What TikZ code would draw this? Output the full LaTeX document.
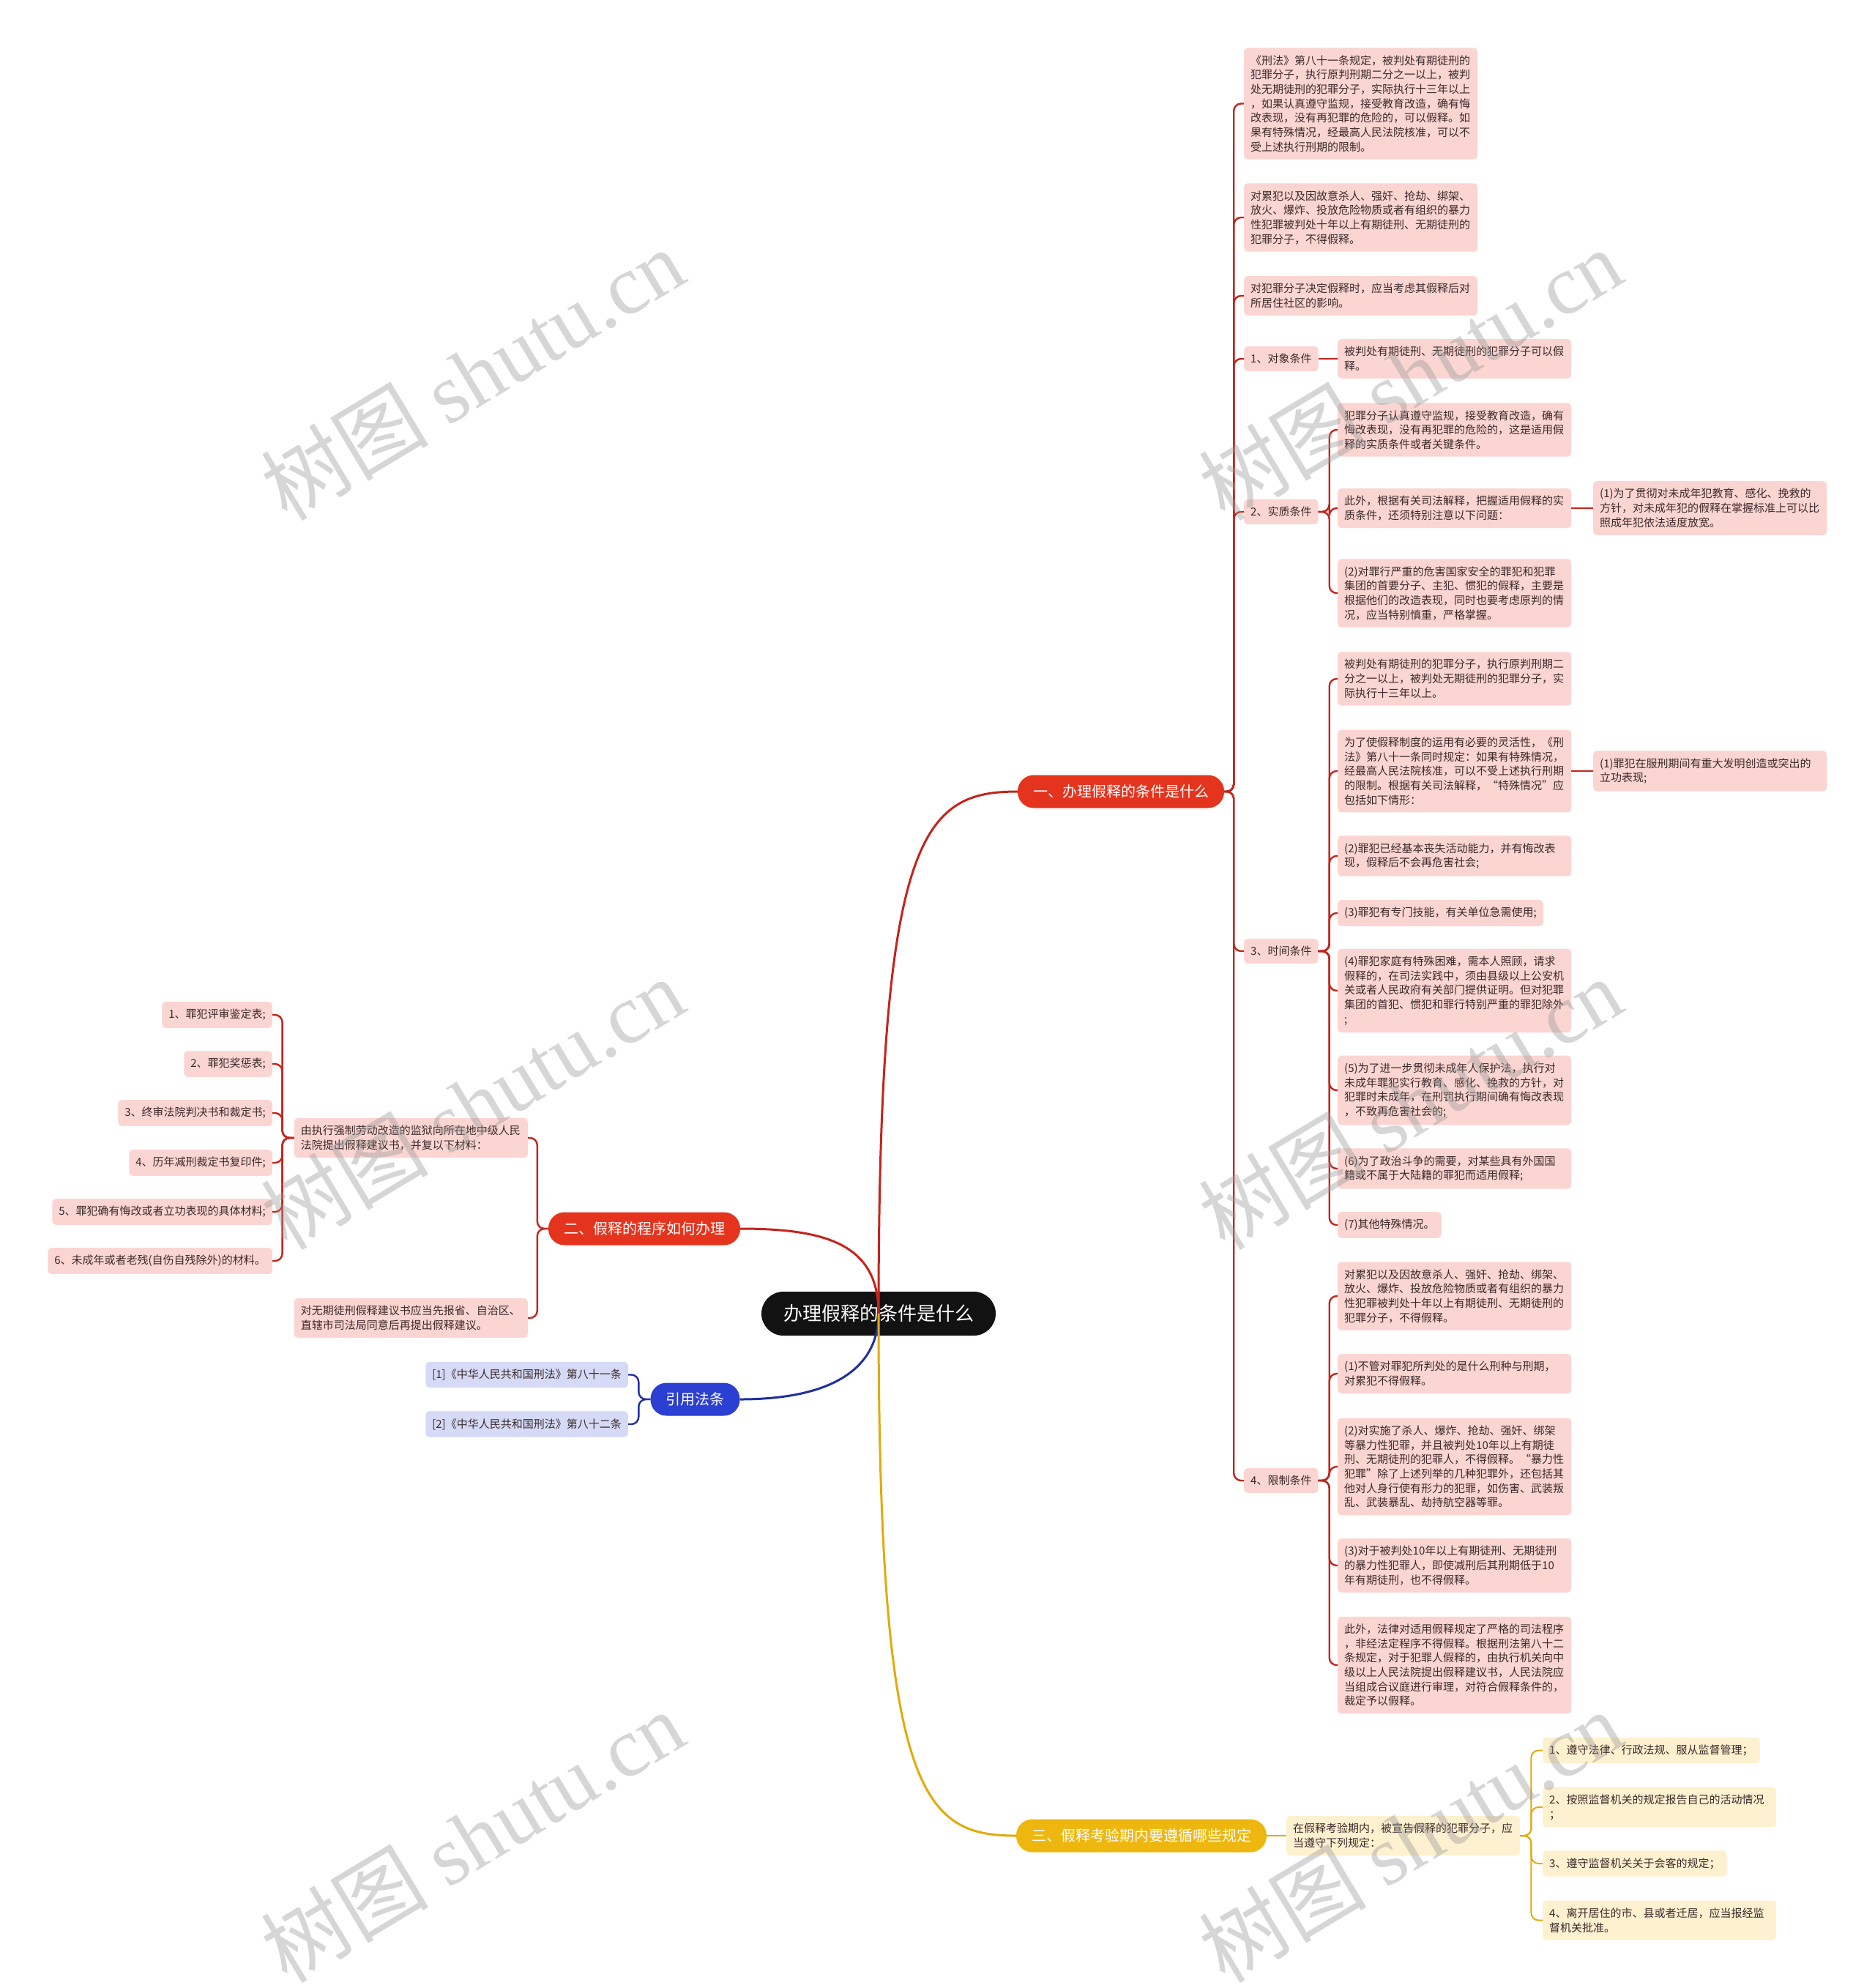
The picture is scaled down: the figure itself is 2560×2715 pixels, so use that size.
\documentclass[tikz,border=0pt]{standalone}
\usepackage{fontspec}
\setmainfont{Noto Sans CJK SC}
\newfontfamily\wmfont{Liberation Serif}
\definecolor{inkred}{HTML}{C4241C}
\definecolor{capred}{HTML}{E5341E}
\definecolor{leafpink}{HTML}{FBD5D1}
\definecolor{inkblue}{HTML}{1F2FA0}
\definecolor{capblue}{HTML}{2B3FD3}
\definecolor{leafblue}{HTML}{D5DAF6}
\definecolor{inkgold}{HTML}{E2AA0B}
\definecolor{capgold}{HTML}{EEB70F}
\definecolor{leafgold}{HTML}{FEF1CF}
\definecolor{leaftext}{HTML}{3A2A2A}
\begin{document}
\begin{tikzpicture}[x=1pt, y=-1pt,
  rootpill/.style={fill=black!93, text=white, rounded corners=30pt, minimum height=60pt, inner xsep=30pt, inner ysep=0pt, font=\fontsize{26pt}{30pt}\selectfont},
  pill/.style={text=white, rounded corners=22pt, minimum height=45pt, inner xsep=21pt, inner ysep=0pt, font=\fontsize{20pt}{24pt}\selectfont},
  tag/.style={fill=leafpink, rounded corners=5pt, inner xsep=9pt, inner ysep=10pt, text=leaftext, font=\fontsize{15pt}{19.7pt}\selectfont},
  note/.style={tag, text width=301pt, align=left},
  redlink/.style={draw=inkred, line width=2.4pt, rounded corners=10pt},
  bluelink/.style={draw=inkblue, line width=2.4pt, rounded corners=10pt},
  goldlink/.style={draw=inkgold, line width=2pt, rounded corners=10pt},
  wm/.style={rotate=31, text=black!40, opacity=0.4, font=\fontsize{115pt}{120pt}\selectfont}
]
\path[use as bounding box, fill=white] (0,0) rectangle (2560,2715);

\node[rootpill] (root) at (1200,1794) {办理假释的条件是什么};
\node[pill, fill=capred] (b1) at (1531,1081) {一、办理假释的条件是什么};
\node[pill, fill=capred] (b2) at (880,1678) {二、假释的程序如何办理};
\node[pill, fill=capblue] (b4) at (949.5,1911) {引用法条};
\node[pill, fill=capgold] (b3) at (1559,2507) {三、假释考验期内要遵循哪些规定};

\node[note, anchor=west] (t1) at (1699,141.5) {《刑法》第八十一条规定，被判处有期徒刑的\\犯罪分子，执行原判刑期二分之一以上，被判\\处无期徒刑的犯罪分子，实际执行十三年以上\\，如果认真遵守监规，接受教育改造，确有悔\\改表现，没有再犯罪的危险的，可以假释。如\\果有特殊情况，经最高人民法院核准，可以不\\受上述执行刑期的限制。};
\node[note, anchor=west] (t2) at (1699,297) {对累犯以及因故意杀人、强奸、抢劫、绑架、\\放火、爆炸、投放危险物质或者有组织的暴力\\性犯罪被判处十年以上有期徒刑、无期徒刑的\\犯罪分子，不得假释。};
\node[note, anchor=west] (t3) at (1699,404) {对犯罪分子决定假释时，应当考虑其假释后对\\所居住社区的影响。};
\node[tag, anchor=west] (c1) at (1699,490) {1、对象条件};
\node[tag, anchor=west] (c2) at (1699,699) {2、实质条件};
\node[tag, anchor=west] (c3) at (1699,1299) {3、时间条件};
\node[tag, anchor=west] (c4) at (1699,2022) {4、限制条件};

\node[note, anchor=west] (d11) at (1827,490) {被判处有期徒刑、无期徒刑的犯罪分子可以假\\释。};
\node[note, anchor=west] (d21) at (1827,587) {犯罪分子认真遵守监规，接受教育改造，确有\\悔改表现，没有再犯罪的危险的，这是适用假\\释的实质条件或者关键条件。};
\node[note, anchor=west] (d22) at (1827,694) {此外，根据有关司法解释，把握适用假释的实\\质条件，还须特别注意以下问题：};
\node[note, anchor=west] (e221) at (2176,694) {(1)为了贯彻对未成年犯教育、感化、挽救的\\方针，对未成年犯的假释在掌握标准上可以比\\照成年犯依法适度放宽。};
\node[note, anchor=west] (d23) at (1827,810) {(2)对罪行严重的危害国家安全的罪犯和犯罪\\集团的首要分子、主犯、惯犯的假释，主要是\\根据他们的改造表现，同时也要考虑原判的情\\况，应当特别慎重，严格掌握。};

\node[note, anchor=west] (d31) at (1827,927) {被判处有期徒刑的犯罪分子，执行原判刑期二\\分之一以上，被判处无期徒刑的犯罪分子，实\\际执行十三年以上。};
\node[note, anchor=west] (d32) at (1827,1053) {为了使假释制度的运用有必要的灵活性，《刑\\法》第八十一条同时规定：如果有特殊情况，\\经最高人民法院核准，可以不受上述执行刑期\\的限制。根据有关司法解释，“特殊情况”应\\包括如下情形：};
\node[note, anchor=west] (e321) at (2176,1053) {(1)罪犯在服刑期间有重大发明创造或突出的\\立功表现;};
\node[note, anchor=west] (d33) at (1827,1169) {(2)罪犯已经基本丧失活动能力，并有悔改表\\现，假释后不会再危害社会;};
\node[tag, anchor=west] (d34) at (1827,1247) {(3)罪犯有专门技能，有关单位急需使用;};
\node[note, anchor=west] (d35) at (1827,1353) {(4)罪犯家庭有特殊困难，需本人照顾，请求\\假释的，在司法实践中，须由县级以上公安机\\关或者人民政府有关部门提供证明。但对犯罪\\集团的首犯、惯犯和罪行特别严重的罪犯除外\\;};
\node[note, anchor=west] (d36) at (1827,1489) {(5)为了进一步贯彻未成年人保护法，执行对\\未成年罪犯实行教育、感化、挽救的方针，对\\犯罪时未成年，在刑罚执行期间确有悔改表现\\，不致再危害社会的;};
\node[note, anchor=west] (d37) at (1827,1596) {(6)为了政治斗争的需要，对某些具有外国国\\籍或不属于大陆籍的罪犯而适用假释;};
\node[tag, anchor=west] (d38) at (1827,1673) {(7)其他特殊情况。};

\node[note, anchor=west] (d41) at (1827,1770) {对累犯以及因故意杀人、强奸、抢劫、绑架、\\放火、爆炸、投放危险物质或者有组织的暴力\\性犯罪被判处十年以上有期徒刑、无期徒刑的\\犯罪分子，不得假释。};
\node[note, anchor=west] (d42) at (1827,1876) {(1)不管对罪犯所判处的是什么刑种与刑期，\\对累犯不得假释。};
\node[note, anchor=west] (d43) at (1827,2003) {(2)对实施了杀人、爆炸、抢劫、强奸、绑架\\等暴力性犯罪，并且被判处10年以上有期徒\\刑、无期徒刑的犯罪人，不得假释。“暴力性\\犯罪”除了上述列举的几种犯罪外，还包括其\\他对人身行使有形力的犯罪，如伤害、武装叛\\乱、武装暴乱、劫持航空器等罪。};
\node[note, anchor=west] (d44) at (1827,2138) {(3)对于被判处10年以上有期徒刑、无期徒刑\\的暴力性犯罪人，即使减刑后其刑期低于10\\年有期徒刑，也不得假释。};
\node[note, anchor=west] (d45) at (1827,2274) {此外，法律对适用假释规定了严格的司法程序\\，非经法定程序不得假释。根据刑法第八十二\\条规定，对于犯罪人假释的，由执行机关向中\\级以上人民法院提出假释建议书，人民法院应\\当组成合议庭进行审理，对符合假释条件的，\\裁定予以假释。};

\node[note, anchor=east] (l1) at (721,1554) {由执行强制劳动改造的监狱向所在地中级人民\\法院提出假释建议书，并复以下材料：};
\node[note, anchor=east] (l2) at (721,1800) {对无期徒刑假释建议书应当先报省、自治区、\\直辖市司法局同意后再提出假释建议。};
\node[tag, anchor=east] (m1) at (372,1386) {1、罪犯评审鉴定表;};
\node[tag, anchor=east] (m2) at (372,1453) {2、罪犯奖惩表;};
\node[tag, anchor=east] (m3) at (372,1520) {3、终审法院判决书和裁定书;};
\node[tag, anchor=east] (m4) at (372,1588) {4、历年减刑裁定书复印件;};
\node[tag, anchor=east] (m5) at (372,1655) {5、罪犯确有悔改或者立功表现的具体材料;};
\node[tag, anchor=east] (m6) at (372,1722) {6、未成年或者老残(自伤自残除外)的材料。};

\node[tag, fill=leafblue, anchor=east] (r1) at (858,1877.5) {[1]《中华人民共和国刑法》第八十一条};
\node[tag, fill=leafblue, anchor=east] (r2) at (858,1945) {[2]《中华人民共和国刑法》第八十二条};

\node[note, fill=leafgold, anchor=west] (y0) at (1757,2507) {在假释考验期内，被宣告假释的犯罪分子，应\\当遵守下列规定：};
\node[tag, fill=leafgold, anchor=west] (y1) at (2107,2390.5) {1、遵守法律、行政法规、服从监督管理；};
\node[note, fill=leafgold, anchor=west] (y2) at (2107,2468) {2、按照监督机关的规定报告自己的活动情况\\；};
\node[tag, fill=leafgold, anchor=west] (y3) at (2107,2545) {3、遵守监督机关关于会客的规定；};
\node[note, fill=leafgold, anchor=west] (y4) at (2107,2622.5) {4、离开居住的市、县或者迁居，应当报经监\\督机关批准。};

\draw[inkred, line width=3pt] (root.center) .. controls (1200,1140) and (1260,1081) .. (b1.west);
\draw[inkred, line width=3pt] (root.center) .. controls (1200,1700) and (1130,1678) .. (b2.east);
\draw[inkblue, line width=3pt] (root.center) .. controls (1200,1860) and (1150,1911) .. (b4.east);
\draw[inkgold, line width=3pt] (root.center) .. controls (1200,2450) and (1260,2507) .. (b3.west);

\draw[redlink] (b1.east) -- ++(13,0) |- (t1.west);
\draw[redlink] (b1.east) -- ++(13,0) |- (t2.west);
\draw[redlink] (b1.east) -- ++(13,0) |- (t3.west);
\draw[redlink] (b1.east) -- ++(13,0) |- (c1.west);
\draw[redlink] (b1.east) -- ++(13,0) |- (c2.west);
\draw[redlink] (b1.east) -- ++(13,0) |- (c3.west);
\draw[redlink] (b1.east) -- ++(13,0) |- (c4.west);
\draw[redlink] (c1.east) -- (d11.west);
\draw[redlink] (c2.east) -- ++(15,0) |- (d21.west);
\draw[redlink] (c2.east) -- ++(15,0) |- (d22.west);
\draw[redlink] (c2.east) -- ++(15,0) |- (d23.west);
\draw[redlink] (d22.east) -- (e221.west);
\draw[redlink] (c3.east) -- ++(15,0) |- (d31.west);
\draw[redlink] (c3.east) -- ++(15,0) |- (d32.west);
\draw[redlink] (c3.east) -- ++(15,0) |- (d33.west);
\draw[redlink] (c3.east) -- ++(15,0) |- (d34.west);
\draw[redlink] (c3.east) -- ++(15,0) |- (d35.west);
\draw[redlink] (c3.east) -- ++(15,0) |- (d36.west);
\draw[redlink] (c3.east) -- ++(15,0) |- (d37.west);
\draw[redlink] (c3.east) -- ++(15,0) |- (d38.west);
\draw[redlink] (d32.east) -- (e321.west);
\draw[redlink] (c4.east) -- ++(15,0) |- (d41.west);
\draw[redlink] (c4.east) -- ++(15,0) |- (d42.west);
\draw[redlink] (c4.east) -- ++(15,0) |- (d43.west);
\draw[redlink] (c4.east) -- ++(15,0) |- (d44.west);
\draw[redlink] (c4.east) -- ++(15,0) |- (d45.west);

\draw[redlink] (b2.west) -- ++(-15,0) |- (l1.east);
\draw[redlink] (b2.west) -- ++(-15,0) |- (l2.east);
\draw[redlink] (l1.west) -- ++(-16,0) |- (m1.east);
\draw[redlink] (l1.west) -- ++(-16,0) |- (m2.east);
\draw[redlink] (l1.west) -- ++(-16,0) |- (m3.east);
\draw[redlink] (l1.west) -- ++(-16,0) |- (m4.east);
\draw[redlink] (l1.west) -- ++(-16,0) |- (m5.east);
\draw[redlink] (l1.west) -- ++(-16,0) |- (m6.east);

\draw[bluelink] (b4.west) -- ++(-16,0) |- (r1.east);
\draw[bluelink] (b4.west) -- ++(-16,0) |- (r2.east);

\draw[goldlink] (b3.east) -- (y0.west);
\draw[goldlink] (y0.east) -- ++(15,0) |- (y1.west);
\draw[goldlink] (y0.east) -- ++(15,0) |- (y2.west);
\draw[goldlink] (y0.east) -- ++(15,0) |- (y3.west);
\draw[goldlink] (y0.east) -- ++(15,0) |- (y4.west);

\node[wm] (wm1) at (645,511) {树图 {\wmfont shutu.cn}};
\node[wm] (wm2) at (1926,511) {树图 {\wmfont shutu.cn}};
\node[wm] (wm3) at (645,1507) {树图 {\wmfont shutu.cn}};
\node[wm] (wm4) at (1926,1507) {树图 {\wmfont shutu.cn}};
\node[wm] (wm5) at (645,2508) {树图 {\wmfont shutu.cn}};
\node[wm] (wm6) at (1926,2508) {树图 {\wmfont shutu.cn}};
\end{tikzpicture}
\end{document}
